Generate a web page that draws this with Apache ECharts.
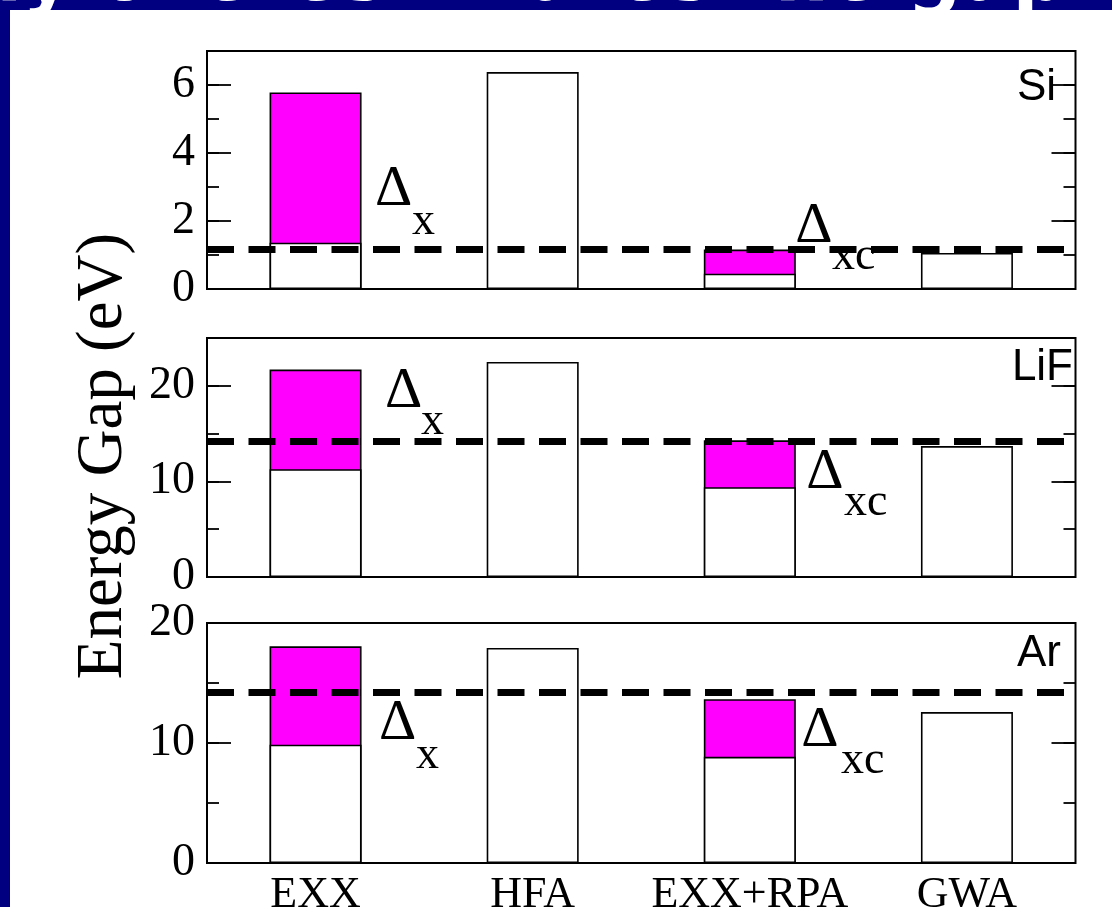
<!DOCTYPE html>
<html>
<head>
<meta charset="utf-8">
<script src="https://cdn.jsdelivr.net/npm/echarts@6/dist/echarts.min.js"></script>
<style>
html,body{margin:0;padding:0;background:#000080;}
#c{width:1112px;height:907px;}
</style>
</head>
<body>
<div id="c"></div>
<script>
// ---- data ----
const categories = ['EXX', 'HFA', 'EXX+RPA', 'GWA'];
const panels = ['Si', 'LiF', 'Ar'];
// lower (white) part of each bar = total gap for HFA / GWA
const siLower  = [1.36, 6.38, 0.45, 1.06];
const lifLower = [11.28, 22.5, 9.4, 13.7];
const arLower  = [9.86, 17.92, 8.85, 12.58];
// top of magenta part (only EXX and EXX+RPA)
const siUpper  = [5.78, null, 1.16, null];
const lifUpper = [21.7, null, 14.3, null];
const arUpper  = [18.06, null, 13.65, null];
// experimental gap (dashed line)
const expGap = [1.17, 14.2, 14.2];
// y axis ranges and tick intervals
const yMax = [7, 25, 20];
const yInterval = [2, 10, 10];
const yMinorInterval = [1, 5, 5];

const lowers = [siLower, lifLower, arLower];
const uppers = [siUpper, lifUpper, arUpper];

// ---- layout (not data) ----
const gridTops = [51, 338, 623];
const gridHeights = [238, 239, 240];
const panelLabelPos = [{right: 56, top: 66}, {right: 39, top: 346}, {right: 51, top: 632}];
// annotations: [category, value, dx, text, size]
const annotations = [
  [['EXX', 2.92, 78, 'Δ', 58], ['EXX', 1.97, 108, 'x', 46], ['EXX+RPA', 1.84, 64, 'Δ', 58], ['EXX+RPA', 0.94, 104, 'xc', 46]],
  [['EXX', 19.4, 88, 'Δ', 58], ['EXX', 16.2, 117, 'x', 46], ['EXX+RPA', 10.95, 75, 'Δ', 58], ['EXX+RPA', 7.8, 116, 'xc', 46]],
  [['EXX', 11.6, 82, 'Δ', 58], ['EXX', 8.9, 112, 'x', 46], ['EXX+RPA', 11.0, 70, 'Δ', 58], ['EXX+RPA', 8.5, 113, 'xc', 46]]
];

const SERIF = '"Liberation Serif", "Times New Roman", serif';
const SANS = '"Liberation Sans", Arial, sans-serif';

const grids = [], xAxes = [], yAxes = [], series = [], titles = [];

panels.forEach((name, gi) => {
  grids.push({left: 207, right: 36.5, top: gridTops[gi], height: gridHeights[gi],
    outerBoundsMode: 'none', containLabel: false,
    show: true, borderColor: '#000', borderWidth: 2, backgroundColor: '#fff'});
  xAxes.push({type: 'category', gridIndex: gi, data: categories,
    axisLine: {show: false}, axisTick: {show: false}, splitLine: {show: false},
    axisLabel: {show: gi === 2, interval: 0, color: '#000', fontFamily: SERIF, fontSize: 44, margin: 10}});
  const base = yAxes.length;
  const mk = (pos, interval, len, showLabel) => ({
    type: 'value', gridIndex: gi, position: pos, min: 0, max: yMax[gi], interval: interval,
    axisLine: {show: false}, splitLine: {show: false},
    axisTick: {show: true, inside: true, length: len, lineStyle: {color: '#000', width: 1.8}},
    axisLabel: {show: showLabel, color: '#000', fontFamily: SERIF, fontSize: 46, margin: 12,
      showMaxLabel: yMax[gi] % yInterval[gi] === 0}
  });
  yAxes.push(mk('left', yInterval[gi], 24, true));
  yAxes.push(mk('left', yMinorInterval[gi], 12, false));
  yAxes.push(mk('right', yInterval[gi], 24, false));
  yAxes.push(mk('right', yMinorInterval[gi], 12, false));

  series.push({
    type: 'bar', xAxisIndex: gi, yAxisIndex: base, data: uppers[gi],
    barWidth: 92, barGap: '-100%', silent: true,
    itemStyle: {color: '#ff00ff', borderColor: '#000', borderWidth: 1.6}
  });
  series.push({
    type: 'bar', xAxisIndex: gi, yAxisIndex: base, data: lowers[gi],
    barWidth: 92, barGap: '-100%', silent: true,
    itemStyle: {color: '#ffffff', borderColor: '#000', borderWidth: 1.6},
    markLine: {
      silent: true, symbol: ['none', 'none'], animation: false,
      label: {show: false},
      lineStyle: {color: '#000', width: 7, type: [27, 14.5], opacity: 1},
      emphasis: {disabled: true},
      data: [{yAxis: expGap[gi]}]
    },
    markPoint: {
      silent: true, animation: false,
      data: annotations[gi].map(a => ({
        coord: [a[0], a[1]], symbol: 'circle', symbolSize: 1,
        itemStyle: {color: 'rgba(0,0,0,0)'},
        label: {show: true, position: 'inside', formatter: a[3], offset: [a[2], 0],
          color: '#000', fontFamily: SERIF, fontSize: a[4]}
      }))
    }
  });
  titles.push({text: name, right: panelLabelPos[gi].right, top: panelLabelPos[gi].top, padding: 0,
    textStyle: {color: '#000', fontFamily: SANS, fontSize: 44, fontWeight: 'normal'}});
});

const chart = echarts.init(document.getElementById('c'), null, {renderer: 'canvas'});
chart.setOption({
  animation: false,
  backgroundColor: '#000080',
  title: titles,
  grid: grids,
  xAxis: xAxes,
  yAxis: yAxes,
  series: series,
  graphic: [
    {type: 'text', z: -20, x: -110, y: 18,
     style: {text: 'only overestimates the gap', fill: '#ffffff',
             font: 'bold 76px "DejaVu Sans"', textAlign: 'left', textVerticalAlign: 'bottom'}},
    {type: 'rect', z: -10, shape: {x: 10, y: 10, width: 1102, height: 897}, style: {fill: '#ffffff'}},
    {type: 'text', z: 10, x: 104, y: 456, rotation: Math.PI / 2,
     style: {text: 'Energy Gap (eV)', fill: '#000', font: '65px ' + SERIF,
             textAlign: 'center', textVerticalAlign: 'middle'}}
  ]
});
</script>
</body>
</html>
